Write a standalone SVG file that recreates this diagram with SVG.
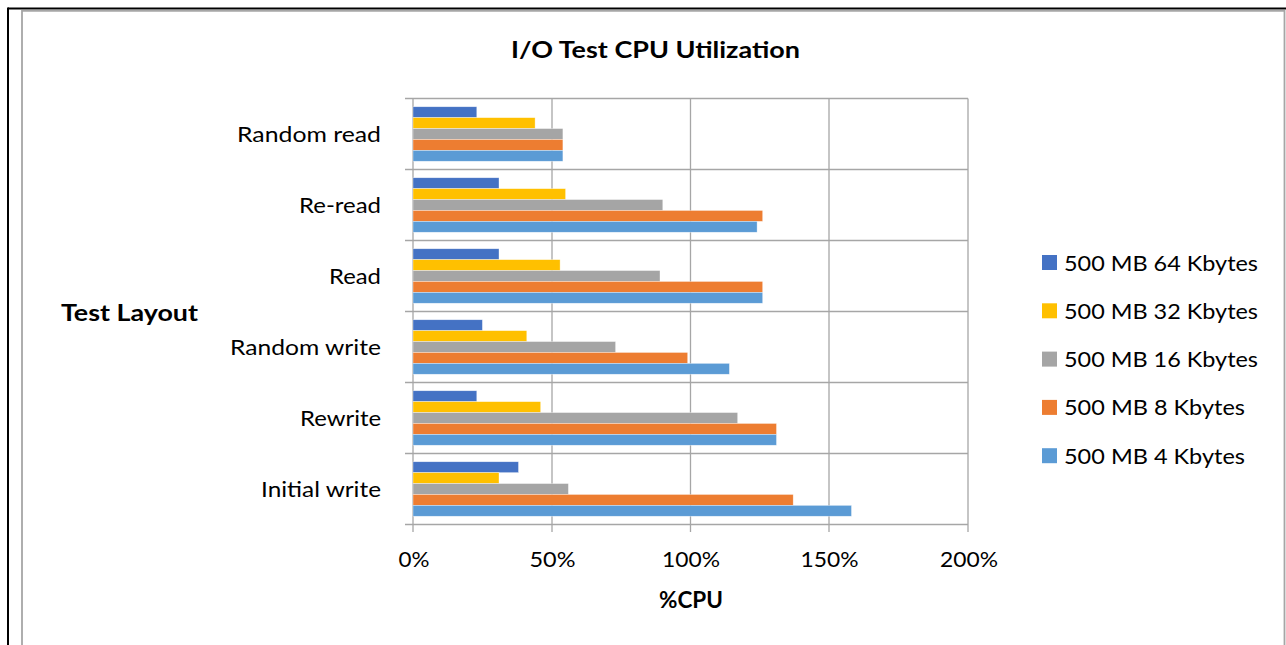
<svg xmlns="http://www.w3.org/2000/svg" width="1286" height="645" viewBox="0 0 1286 645">
  <style>
    text { font-family: Lato, "Liberation Sans", sans-serif; fill: #000; }
    .title { font-size: 23px; font-weight: bold; }
    .axt { font-size: 23px; font-weight: bold; }
    .cat { font-size: 22px; text-anchor: end; }
    .tick { font-size: 22px; text-anchor: middle; }
    .leg { font-size: 22px; }
    .grid { stroke: #A6A6A6; stroke-width: 1.3; fill: none; }
    .s64 { fill: #4472C4; }
    .s32 { fill: #FFC000; }
    .s16 { fill: #A5A5A5; }
    .s8 { fill: #ED7D31; }
    .s4 { fill: #5B9BD5; }
    .bars rect { stroke: #ffffff; stroke-opacity: 0.6; stroke-width: 0.6; }
  </style>

  <rect x="0" y="0" width="1286" height="645" fill="#ffffff"/>

  <!-- page frame and chart area border -->
  <g id="frame">
    <line x1="8" y1="8.5" x2="1286" y2="8.5" stroke="#000" stroke-width="1.8"/>
    <line x1="8" y1="7.6" x2="8" y2="645" stroke="#000" stroke-width="2"/>
    <polyline points="22,645 22,10.8 1284.5,10.8 1284.5,645" fill="none" stroke="#A6A6A6" stroke-width="1.8"/>
  </g>

  <text id="title" class="title" x="511" y="58" textLength="289" lengthAdjust="spacingAndGlyphs">I/O Test CPU Utilization</text>

  <!-- plot grid: category bands and percentage gridlines -->
  <g id="grid" class="grid">
    <line x1="405" y1="98.5" x2="968" y2="98.5"/>
    <line x1="405" y1="169.5" x2="968" y2="169.5"/>
    <line x1="405" y1="240.5" x2="968" y2="240.5"/>
    <line x1="405" y1="311.5" x2="968" y2="311.5"/>
    <line x1="405" y1="382.5" x2="968" y2="382.5"/>
    <line x1="405" y1="453.5" x2="968" y2="453.5"/>
    <line x1="405" y1="524.5" x2="968" y2="524.5"/>
    <line x1="413" y1="98.5" x2="413" y2="532"/>
    <line x1="552" y1="98.5" x2="552" y2="532"/>
    <line x1="690.5" y1="98.5" x2="690.5" y2="532"/>
    <line x1="829" y1="98.5" x2="829" y2="532"/>
    <line x1="968" y1="98.5" x2="968" y2="532"/>
  </g>

  <!-- bars: 2.775 px per percent from x=413 -->
  <g id="bars" class="bars">
    <g id="random-read">
      <rect class="s64" x="413" y="106.75" width="63.8" height="10.9"/>
      <rect class="s32" x="413" y="117.65" width="122.1" height="10.9"/>
      <rect class="s16" x="413" y="128.55" width="149.9" height="10.9"/>
      <rect class="s8" x="413" y="139.45" width="149.9" height="10.9"/>
      <rect class="s4" x="413" y="150.35" width="149.9" height="10.9"/>
    </g>
    <g id="re-read">
      <rect class="s64" x="413" y="177.75" width="86" height="10.9"/>
      <rect class="s32" x="413" y="188.65" width="152.6" height="10.9"/>
      <rect class="s16" x="413" y="199.55" width="249.8" height="10.9"/>
      <rect class="s8" x="413" y="210.45" width="349.7" height="10.9"/>
      <rect class="s4" x="413" y="221.35" width="344.1" height="10.9"/>
    </g>
    <g id="read">
      <rect class="s64" x="413" y="248.75" width="86" height="10.9"/>
      <rect class="s32" x="413" y="259.65" width="147.1" height="10.9"/>
      <rect class="s16" x="413" y="270.55" width="247" height="10.9"/>
      <rect class="s8" x="413" y="281.45" width="349.7" height="10.9"/>
      <rect class="s4" x="413" y="292.35" width="349.7" height="10.9"/>
    </g>
    <g id="random-write">
      <rect class="s64" x="413" y="319.75" width="69.4" height="10.9"/>
      <rect class="s32" x="413" y="330.65" width="113.8" height="10.9"/>
      <rect class="s16" x="413" y="341.55" width="202.6" height="10.9"/>
      <rect class="s8" x="413" y="352.45" width="274.7" height="10.9"/>
      <rect class="s4" x="413" y="363.35" width="316.4" height="10.9"/>
    </g>
    <g id="rewrite">
      <rect class="s64" x="413" y="390.75" width="63.8" height="10.9"/>
      <rect class="s32" x="413" y="401.65" width="127.7" height="10.9"/>
      <rect class="s16" x="413" y="412.55" width="324.7" height="10.9"/>
      <rect class="s8" x="413" y="423.45" width="363.5" height="10.9"/>
      <rect class="s4" x="413" y="434.35" width="363.5" height="10.9"/>
    </g>
    <g id="initial-write">
      <rect class="s64" x="413" y="461.75" width="105.5" height="10.9"/>
      <rect class="s32" x="413" y="472.65" width="86" height="10.9"/>
      <rect class="s16" x="413" y="483.55" width="155.4" height="10.9"/>
      <rect class="s8" x="413" y="494.45" width="380.2" height="10.9"/>
      <rect class="s4" x="413" y="505.35" width="438.5" height="10.9"/>
    </g>
  </g>

  <!-- category labels -->
  <g id="categories">
    <text class="cat" x="381" y="141.5" textLength="144" lengthAdjust="spacingAndGlyphs">Random read</text>
    <text class="cat" x="381" y="212.5" textLength="82" lengthAdjust="spacingAndGlyphs">Re-read</text>
    <text class="cat" x="381" y="283.5" textLength="52" lengthAdjust="spacingAndGlyphs">Read</text>
    <text class="cat" x="381" y="354.5" textLength="151" lengthAdjust="spacingAndGlyphs">Random write</text>
    <text class="cat" x="381" y="425.5" textLength="81" lengthAdjust="spacingAndGlyphs">Rewrite</text>
    <text class="cat" x="381" y="496.5" textLength="120" lengthAdjust="spacingAndGlyphs">Initial write</text>
  </g>

  <!-- value axis labels -->
  <g id="ticks">
    <text class="tick" x="414" y="566.5" textLength="31" lengthAdjust="spacingAndGlyphs">0%</text>
    <text class="tick" x="552.5" y="566.5" textLength="46" lengthAdjust="spacingAndGlyphs">50%</text>
    <text class="tick" x="691" y="566.5" textLength="58" lengthAdjust="spacingAndGlyphs">100%</text>
    <text class="tick" x="829.5" y="566.5" textLength="58" lengthAdjust="spacingAndGlyphs">150%</text>
    <text class="tick" x="969" y="566.5" textLength="58" lengthAdjust="spacingAndGlyphs">200%</text>
  </g>

  <text id="x-title" class="axt" x="659" y="608" textLength="64" lengthAdjust="spacingAndGlyphs">%CPU</text>
  <text id="y-title" class="axt" x="61" y="321" textLength="137" lengthAdjust="spacingAndGlyphs">Test Layout</text>

  <!-- legend -->
  <g id="legend">
    <g id="leg-64"><rect class="s64" x="1042" y="255" width="15" height="15"/><text class="leg" x="1064" y="270.5" textLength="194" lengthAdjust="spacingAndGlyphs">500 MB 64 Kbytes</text></g>
    <g id="leg-32"><rect class="s32" x="1042" y="303.3" width="15" height="15"/><text class="leg" x="1064" y="318.8" textLength="194" lengthAdjust="spacingAndGlyphs">500 MB 32 Kbytes</text></g>
    <g id="leg-16"><rect class="s16" x="1042" y="351.6" width="15" height="15"/><text class="leg" x="1064" y="367.1" textLength="194" lengthAdjust="spacingAndGlyphs">500 MB 16 Kbytes</text></g>
    <g id="leg-8"><rect class="s8" x="1042" y="399.9" width="15" height="15"/><text class="leg" x="1064" y="415.4" textLength="181" lengthAdjust="spacingAndGlyphs">500 MB 8 Kbytes</text></g>
    <g id="leg-4"><rect class="s4" x="1042" y="448.2" width="15" height="15"/><text class="leg" x="1064" y="463.7" textLength="181" lengthAdjust="spacingAndGlyphs">500 MB 4 Kbytes</text></g>
  </g>
</svg>
